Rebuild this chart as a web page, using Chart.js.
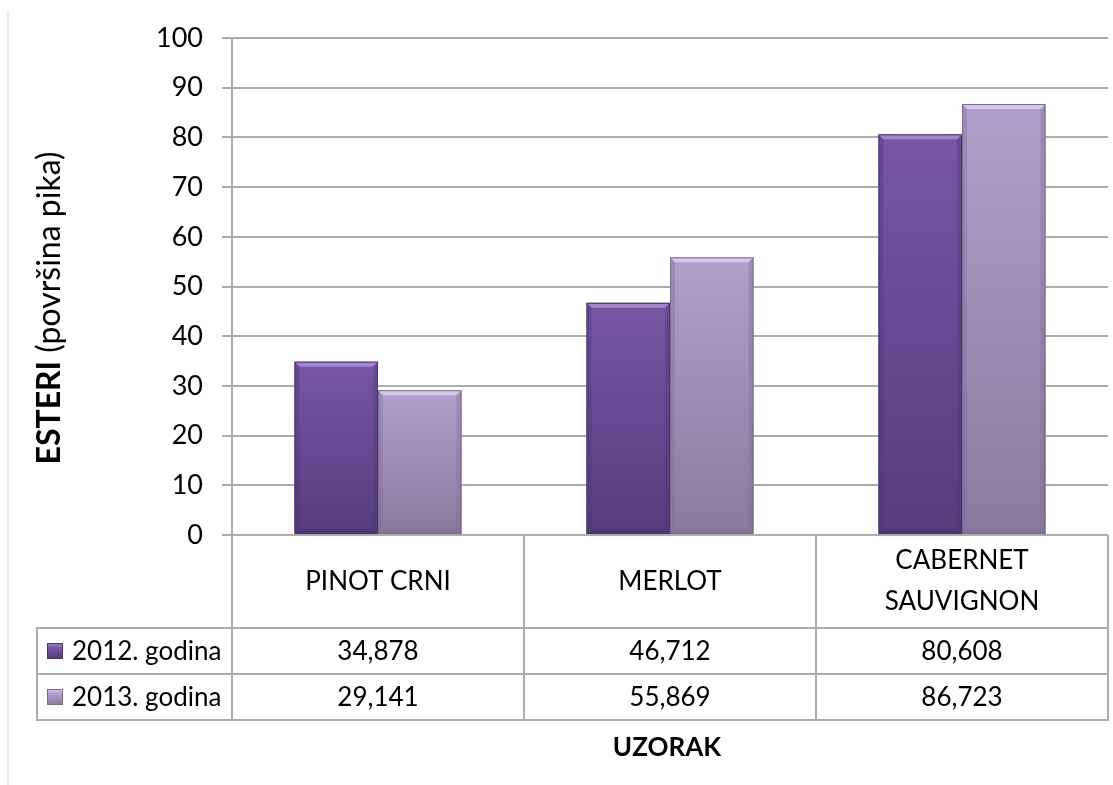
<!DOCTYPE html>
<html>
<head>
<meta charset="utf-8">
<title>Esteri</title>
<script src="https://cdn.jsdelivr.net/npm/chart.js@4.4.0/dist/chart.umd.min.js"></script>
<style>
    html, body { margin: 0; padding: 0; background: #ffffff; }
    #chart { display: block; }
</style>
</head>
<body>
<canvas id="chart" width="1113" height="785"></canvas>
<script>
// Data
const categories = [['PINOT CRNI'], ['MERLOT'], ['CABERNET', 'SAUVIGNON']];
const seriesNames = ['2012. godina', '2013. godina'];
const values2012 = [34.878, 46.712, 80.608];
const values2013 = [29.141, 55.869, 86.723];
const yMin = 0;
const yMax = 100;
const yStep = 10;
const yTitleBold = 'ESTERI';
const yTitleRest = ' (površina pika)';
const xTitle = 'UZORAK';

const FONT = 'Lato, "Open Sans", sans-serif';
const LINE = '#acacac';

// colours: [top, bottom, bevel light, edge dark]
const palette = [
    ['#7757a6', '#553c7b', '#a58bcb', '#4a3470'],
    ['#b19fcd', '#8a7a9f', '#d9cdec', '#7a6b90']
];

function formatValue(v) {
    return v.toFixed(3).replace('.', ',');
}

function barGradient(context) {
    const chart = context.chart;
    const pal = palette[context.datasetIndex];
    if (!chart.chartArea) return pal[0];
    const yScale = chart.scales.y;
    const top = yScale.getPixelForValue(context.raw);
    const base = yScale.getPixelForValue(0);
    const g = chart.ctx.createLinearGradient(0, top, 0, base);
    g.addColorStop(0, pal[0]);
    g.addColorStop(1, pal[1]);
    return g;
}

// white background + faint frame line
const backgroundPlugin = {
    id: 'background',
    beforeDraw(chart) {
        const ctx = chart.ctx;
        ctx.save();
        ctx.fillStyle = '#ffffff';
        ctx.fillRect(0, 0, chart.width, chart.height);
        ctx.strokeStyle = '#ededed';
        ctx.lineWidth = 2;
        ctx.beginPath();
        ctx.moveTo(8, 12);
        ctx.lineTo(8, chart.height);
        ctx.stroke();
        ctx.restore();
    }
};

// bevel edges on bars
const bevelPlugin = {
    id: 'bevel',
    afterDatasetsDraw(chart) {
        const ctx = chart.ctx;
        ctx.save();
        chart.data.datasets.forEach((ds, di) => {
            const pal = palette[di];
            chart.getDatasetMeta(di).data.forEach(bar => {
                const l = bar.x - bar.width / 2;
                const r = bar.x + bar.width / 2;
                const t = bar.y;
                const b = bar.base;
                const e = 5;
                // top bevel
                ctx.fillStyle = pal[2];
                ctx.globalAlpha = 0.9;
                ctx.beginPath();
                ctx.moveTo(l, t);
                ctx.lineTo(r, t);
                ctx.lineTo(r - e, t + e);
                ctx.lineTo(l + e, t + e);
                ctx.closePath();
                ctx.fill();
                // side edges
                ctx.fillStyle = pal[3];
                ctx.globalAlpha = 0.35;
                ctx.beginPath();
                ctx.moveTo(r, t);
                ctx.lineTo(r, b);
                ctx.lineTo(r - e, b - e);
                ctx.lineTo(r - e, t + e);
                ctx.closePath();
                ctx.fill();
                ctx.beginPath();
                ctx.moveTo(l, t);
                ctx.lineTo(l, b);
                ctx.lineTo(l + e, b - e);
                ctx.lineTo(l + e, t + e);
                ctx.closePath();
                ctx.fill();
                ctx.globalAlpha = 0.5;
                ctx.beginPath();
                ctx.moveTo(l, b);
                ctx.lineTo(r, b);
                ctx.lineTo(r - e, b - e);
                ctx.lineTo(l + e, b - e);
                ctx.closePath();
                ctx.fill();
                ctx.globalAlpha = 1;
                ctx.strokeStyle = pal[3];
                ctx.lineWidth = 1;
                ctx.strokeRect(l + 0.5, t + 0.5, bar.width - 1, b - t - 1);
            });
        });
        ctx.restore();
    }
};

// data table, axis titles
const tablePlugin = {
    id: 'dataTable',
    afterDraw(chart) {
        const ctx = chart.ctx;
        const area = chart.chartArea;
        const xScale = chart.scales.x;
        const catW = (area.right - area.left) / categories.length;
        const top = area.bottom;
        const headBottom = top + 93;
        const rowH = 46;
        const tableBottom = headBottom + rowH * seriesNames.length;
        const leftEdge = 37;

        ctx.save();
        ctx.strokeStyle = LINE;
        ctx.lineWidth = 2;
        ctx.beginPath();
        // vertical lines
        for (let i = 0; i <= categories.length; i++) {
            const x = Math.round(area.left + catW * i);
            ctx.moveTo(x, top);
            ctx.lineTo(x, tableBottom);
        }
        ctx.moveTo(leftEdge, headBottom);
        ctx.lineTo(leftEdge, tableBottom + 1);
        // horizontal lines
        for (let r = 0; r <= seriesNames.length; r++) {
            const y = headBottom + rowH * r;
            ctx.moveTo(leftEdge - 1, y);
            ctx.lineTo(area.right + 1, y);
        }
        ctx.stroke();

        ctx.fillStyle = '#000000';
        ctx.textAlign = 'center';
        ctx.textBaseline = 'middle';
        ctx.font = '26px ' + FONT;
        const headMid = (top + headBottom) / 2;
        categories.forEach((lines, i) => {
            const cx = xScale.getPixelForValue(i);
            const lh = 41;
            lines.forEach((txt, k) => {
                const y = headMid + (k - (lines.length - 1) / 2) * lh;
                ctx.fillText(txt, cx, y);
            });
        });

        const series = [values2012, values2013];
        seriesNames.forEach((name, r) => {
            const cy = headBottom + rowH * r + rowH / 2;
            // legend key
            const pal = palette[r];
            const g = ctx.createLinearGradient(0, cy - 8, 0, cy + 8);
            g.addColorStop(0, pal[2]);
            g.addColorStop(0.3, pal[0]);
            g.addColorStop(1, pal[1]);
            ctx.fillStyle = g;
            ctx.fillRect(47, cy - 8, 16, 16);
            ctx.strokeStyle = pal[3];
            ctx.lineWidth = 1;
            ctx.strokeRect(47.5, cy - 7.5, 15, 15);
            ctx.fillStyle = '#000000';
            ctx.textAlign = 'left';
            ctx.fillText(name, 72, cy + 1);
            ctx.textAlign = 'center';
            series[r].forEach((v, i) => {
                ctx.fillText(formatValue(v), xScale.getPixelForValue(i), cy + 1);
            });
        });

        // x title
        ctx.font = 'bold 26px ' + FONT;
        ctx.fillText(xTitle, (area.left + area.right) / 2 - 3, tableBottom + 28);

        // y title (bold + regular)
        ctx.translate(50, 308);
        ctx.rotate(-Math.PI / 2);
        ctx.font = 'bold 32px ' + FONT;
        const wb = ctx.measureText(yTitleBold).width;
        ctx.font = '32px ' + FONT;
        const wr = ctx.measureText(yTitleRest).width;
        let sx = -(wb + wr) / 2;
        ctx.textAlign = 'left';
        ctx.font = 'bold 32px ' + FONT;
        ctx.fillText(yTitleBold, sx, 0);
        ctx.font = '32px ' + FONT;
        ctx.fillText(yTitleRest, sx + wb, 0);
        ctx.restore();
    }
};

const ctx = document.getElementById('chart').getContext('2d');
new Chart(ctx, {
    type: 'bar',
    data: {
        labels: categories,
        datasets: [
            {
                label: seriesNames[0],
                data: values2012,
                backgroundColor: barGradient,
                borderWidth: 0
            },
            {
                label: seriesNames[1],
                data: values2013,
                backgroundColor: barGradient,
                borderWidth: 0
            }
        ]
    },
    options: {
        responsive: false,
        animation: false,
        devicePixelRatio: 1,
        layout: {
            padding: { left: 0, top: 38, right: 5, bottom: 250 }
        },
        datasets: {
            bar: {
                categoryPercentage: 0.572,
                barPercentage: 1.0
            }
        },
        plugins: {
            legend: { display: false },
            tooltip: { enabled: false }
        },
        scales: {
            x: {
                grid: { display: false },
                border: { display: false },
                ticks: { display: false },
                afterFit(scale) { scale.height = 0; }
            },
            y: {
                min: yMin,
                max: yMax,
                ticks: {
                    stepSize: yStep,
                    padding: 19,
                    color: '#000000',
                    font: { family: FONT, size: 27 }
                },
                grid: {
                    color: LINE,
                    lineWidth: 2,
                    tickLength: 10
                },
                border: { display: true, color: LINE, width: 2 },
                afterFit(scale) { scale.width = 232; }
            }
        }
    },
    plugins: [backgroundPlugin, bevelPlugin, tablePlugin]
});
</script>
</body>
</html>
